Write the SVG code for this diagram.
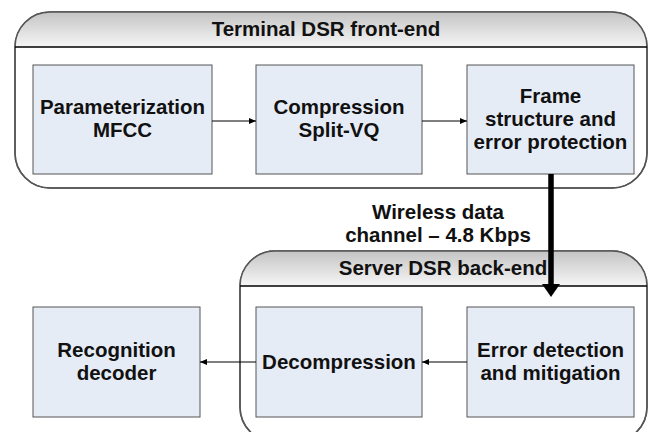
<svg xmlns="http://www.w3.org/2000/svg" width="649" height="432" viewBox="0 0 649 432">
<defs>
<linearGradient id="hdr" x1="0" y1="0" x2="0" y2="1">
<stop offset="0" stop-color="#c4c4c4"/>
<stop offset="1" stop-color="#f6f6f6"/>
</linearGradient>
<marker id="a" markerWidth="8" markerHeight="6" refX="7" refY="3" orient="auto" markerUnits="userSpaceOnUse">
<path d="M0,0 L7,3 L0,6 Z" fill="#000"/>
</marker>
<clipPath id="c1"><rect x="15" y="12" width="632" height="176" rx="35" ry="35"/></clipPath>
<clipPath id="c2"><rect x="240" y="251" width="407" height="191" rx="35" ry="35"/></clipPath>
</defs>
<style>
.cont{fill:#fff;stroke:#555;stroke-width:1.5}
.hline{stroke:#000;stroke-width:1.5}
.box{fill:#e6ecf6;stroke:#555;stroke-width:1}
.t{font-family:"Liberation Sans",Arial,sans-serif;font-weight:bold;font-size:20.5px;fill:#111;text-anchor:middle}
.conn{stroke:#000;stroke-width:1;fill:none}
</style>
<g id="terminal">
<rect class="cont" x="15" y="12" width="632" height="176" rx="35" ry="35"/>
<rect x="15" y="12" width="632" height="35" fill="url(#hdr)" clip-path="url(#c1)"/>
<rect x="15" y="12" width="632" height="176" rx="35" ry="35" fill="none" stroke="#555" stroke-width="1.5"/>
<line class="hline" x1="15" y1="47" x2="647" y2="47"/>
<text class="t" x="326" y="36">Terminal DSR front-end</text>
</g>
<g id="server">
<rect class="cont" x="240" y="251" width="407" height="191" rx="35" ry="35"/>
<rect x="240" y="251" width="407" height="35" fill="url(#hdr)" clip-path="url(#c2)"/>
<rect x="240" y="251" width="407" height="191" rx="35" ry="35" fill="none" stroke="#555" stroke-width="1.5"/>
<line class="hline" x1="240" y1="286" x2="647" y2="286"/>
<text class="t" x="443" y="275">Server DSR back-end</text>
</g>
<g id="param">
<rect class="box" x="33" y="65" width="179" height="109"/>
<text class="t" x="122.5" y="114">Parameterization</text>
<text class="t" x="122.5" y="137">MFCC</text>
</g>
<g id="compression">
<rect class="box" x="256" y="65" width="166" height="109"/>
<text class="t" x="339" y="114">Compression</text>
<text class="t" x="339" y="137">Split-VQ</text>
</g>
<g id="frame">
<rect class="box" x="467" y="65" width="167" height="109"/>
<text class="t" x="550.5" y="103">Frame</text>
<text class="t" x="550.5" y="126">structure and</text>
<text class="t" x="550.5" y="149">error protection</text>
</g>
<g id="error">
<rect class="box" x="467" y="307" width="167" height="110"/>
<text class="t" x="550.5" y="357">Error detection</text>
<text class="t" x="550.5" y="380">and mitigation</text>
</g>
<g id="decompression">
<rect class="box" x="256" y="307" width="166" height="110"/>
<text class="t" x="339" y="369">Decompression</text>
</g>
<g id="recognition">
<rect class="box" x="33" y="307" width="167" height="110"/>
<text class="t" x="116.5" y="357">Recognition</text>
<text class="t" x="116.5" y="380">decoder</text>
</g>
<g id="connectors">
<line class="conn" x1="212" y1="121" x2="256" y2="121" marker-end="url(#a)"/>
<line class="conn" x1="422" y1="121" x2="467" y2="121" marker-end="url(#a)"/>
<line class="conn" x1="467" y1="362" x2="422" y2="362" marker-end="url(#a)"/>
<line class="conn" x1="256" y1="362" x2="200" y2="362" marker-end="url(#a)"/>
<line x1="551" y1="174" x2="551" y2="285" stroke="#000" stroke-width="5.5"/>
<path d="M542,284 L560,284 L551,297 Z" fill="#000"/>
<text class="t" x="438" y="219">Wireless data</text>
<text class="t" x="438" y="242">channel – 4.8 Kbps</text>
</g>
</svg>
